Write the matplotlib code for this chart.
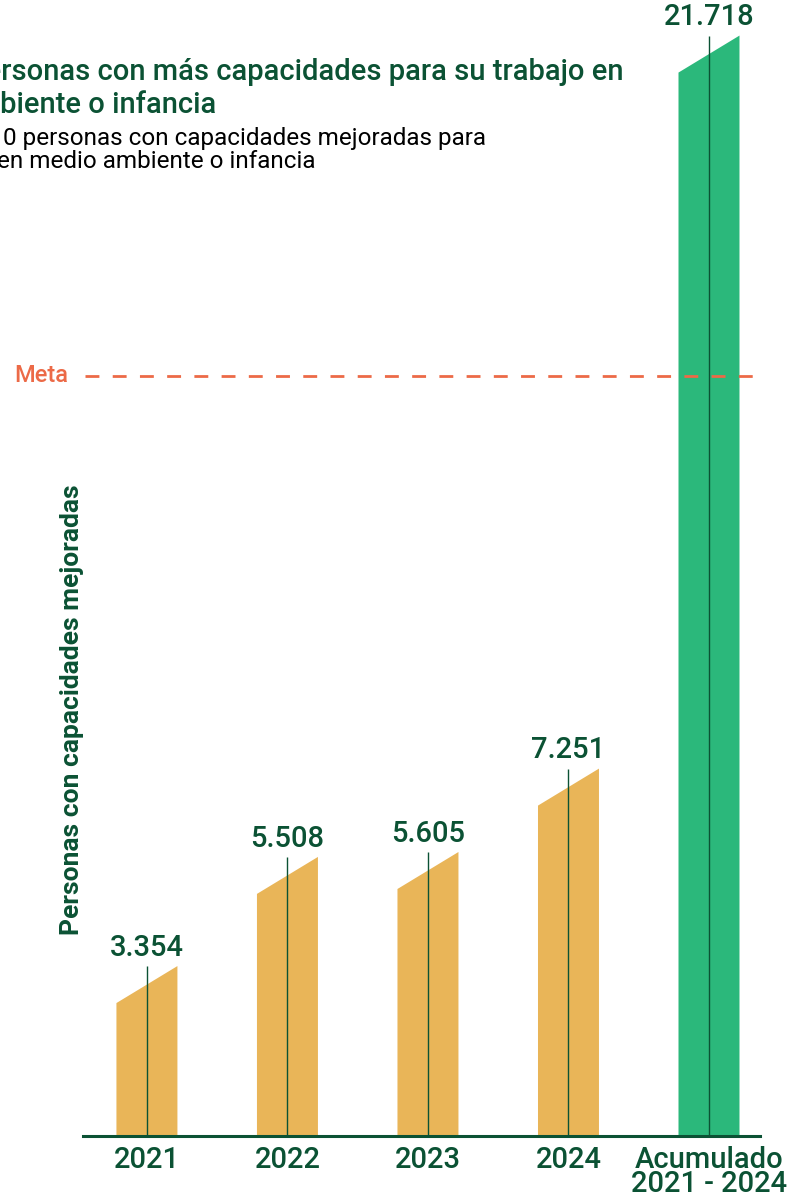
import matplotlib.pyplot as plt

# datos
categorias = ["2021", "2022", "2023", "2024", "Acumulado\n2021 - 2024"]
valores = [3354, 5508, 5605, 7251, 21718]
etiquetas = ["3.354", "5.508", "5.605", "7.251", "21.718"]
meta = 15000

NARANJA = "#E9B558"
VERDE = "#2BB87B"
VERDE_OSC = "#0B5234"
ROJO = "#EC6A47"

plt.rcParams['font.family'] = ['Roboto', 'DejaVu Sans']

fig = plt.figure(figsize=(7.9, 11.98), dpi=100)
ax = fig.add_axes([83 / 790, 62 / 1198, 677 / 790, 1136 / 1198])

ancho = 0.434
inclinacion = 730  # caida del borde izquierdo de cada barra

for i, v in enumerate(valores):
    color = VERDE if i == len(valores) - 1 else NARANJA
    xs = [i - ancho / 2, i + ancho / 2, i + ancho / 2, i - ancho / 2]
    ys = [0, 0, v, v - inclinacion]
    ax.fill(xs, ys, color=color, lw=0, zorder=2)
    ax.vlines(i, 0, v, color=VERDE_OSC, lw=1, zorder=3)
    ax.annotate(etiquetas[i], (i, v), xytext=(0, 3), textcoords="offset points",
                ha="center", va="bottom", fontsize=21, fontweight="medium",
                color=VERDE_OSC)

# linea de meta
ax.axhline(meta, xmin=0.003, xmax=1, color=ROJO, lw=2, ls=(0, (5, 4.8)), zorder=4)
ax.text(-0.56, meta, "Meta", ha="right", va="center", fontsize=17,
        color=ROJO, fontweight="medium")

ax.set_xlim(-0.455, 4.363)
ax.set_ylim(0, 22420)
ax.set_xticks(range(len(categorias)))
ax.set_xticklabels(categorias, fontsize=21, fontweight="medium", color=VERDE_OSC,
                   linespacing=0.85)
ax.tick_params(axis="x", length=0, pad=7)
ax.set_yticks([])
for lado in ["top", "right", "left"]:
    ax.spines[lado].set_visible(False)
ax.spines["bottom"].set_color(VERDE_OSC)
ax.spines["bottom"].set_linewidth(2.2)
ax.patch.set_alpha(0)

ax.set_ylabel("Personas con capacidades mejoradas", fontsize=19,
              fontweight="bold", color=VERDE_OSC)
ax.yaxis.set_label_coords(0.0015, 0.375)

# titulo y subtitulo (recortados por el borde izquierdo)
fig.text(-33 / 790, 1 - 72 / 1198, "Personas con más capacidades para su trabajo en",
         fontsize=21, fontweight="medium", color=VERDE_OSC, va="center", ha="left")
fig.text(-41 / 790, 1 - 105 / 1198, "ambiente o infancia",
         fontsize=21, fontweight="medium", color=VERDE_OSC, va="center", ha="left")
fig.text(3 / 790, 1 - 138 / 1198, "0 personas con capacidades mejoradas para",
         fontsize=17.5, color="black", va="center", ha="left")
fig.text(-3 / 790, 1 - 162 / 1198, "en medio ambiente o infancia",
         fontsize=17.5, color="black", va="center", ha="left")

fig.savefig("out.png", dpi=100)
